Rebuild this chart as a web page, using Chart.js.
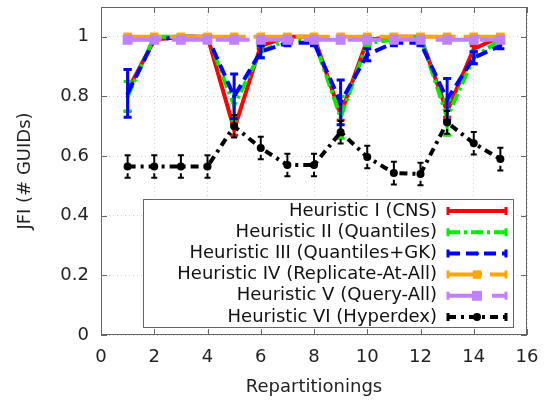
<!DOCTYPE html>
<html>
<head>
<meta charset="utf-8">
<script src="https://cdn.jsdelivr.net/npm/chart.js@4"></script>
<style>
  body { margin: 0; background: #fff; }
  #wrap { width: 545px; height: 401px; }
</style>
</head>
<body>
<div id="wrap"><canvas id="jfi" width="545" height="401"></canvas></div>
<script>
// data
const repartitionings = [1, 2, 3, 4, 5, 6, 7, 8, 9, 10, 11, 12, 13, 14, 15];

const cnsValues = [0.82, 0.99, 1.0, 1.0, 0.69, 0.97, 1.0, 1.0, 0.74, 0.99, 1.0, 1.0, 0.75, 0.96, 1.0];
const cnsErr = [0.07, 0.005, 0.005, 0.005, 0.02, 0.01, 0.005, 0.005, 0.02, 0.005, 0.005, 0.005, 0.02, 0.01, 0.005];

const quantilesValues = [0.80, 1.0, 1.0, 1.0, 0.77, 0.95, 0.99, 0.99, 0.73, 0.98, 0.99, 1.0, 0.73, 0.93, 0.99];
const quantilesErr = [0.05, 0.005, 0.005, 0.005, 0.05, 0.02, 0.005, 0.005, 0.07, 0.01, 0.005, 0.005, 0.06, 0.02, 0.005];

const gkValues = [0.81, 0.99, 1.0, 1.0, 0.80, 0.95, 0.98, 0.98, 0.78, 0.94, 0.98, 0.98, 0.79, 0.93, 0.97];
const gkErr = [0.08, 0.005, 0.005, 0.005, 0.075, 0.02, 0.01, 0.01, 0.075, 0.02, 0.01, 0.01, 0.07, 0.02, 0.01];

const replicateValues = [1.0, 1.0, 1.0, 1.0, 1.0, 1.0, 1.0, 1.0, 1.0, 1.0, 1.0, 1.0, 1.0, 1.0, 1.0];
const replicateErr = [0.003, 0.003, 0.003, 0.003, 0.003, 0.003, 0.003, 0.003, 0.003, 0.003, 0.003, 0.003, 0.003, 0.003, 0.003];

const queryAllValues = [0.99, 0.99, 0.99, 0.99, 0.99, 0.99, 0.99, 0.99, 0.99, 0.99, 0.99, 0.99, 0.99, 0.99, 0.99];
const queryAllErr = [0.003, 0.003, 0.003, 0.003, 0.003, 0.003, 0.003, 0.003, 0.003, 0.003, 0.003, 0.003, 0.003, 0.003, 0.003];

const hyperdexValues = [0.565, 0.565, 0.565, 0.565, 0.70, 0.627, 0.57, 0.57, 0.68, 0.597, 0.543, 0.54, 0.713, 0.643, 0.59];
const hyperdexErr = [0.038, 0.038, 0.038, 0.038, 0.038, 0.038, 0.038, 0.038, 0.038, 0.038, 0.038, 0.038, 0.038, 0.038, 0.038];

const seriesNames = [
  'Heuristic I (CNS)',
  'Heuristic II (Quantiles)',
  'Heuristic III (Quantiles+GK)',
  'Heuristic IV (Replicate-At-All)',
  'Heuristic V (Query-All)',
  'Heuristic VI (Hyperdex)'
];

const xTicks = [0, 2, 4, 6, 8, 10, 12, 14, 16];
const yTicks = [0, 0.2, 0.4, 0.6, 0.8, 1];
const yTickLabels = ['0', '0.2', '0.4', '0.6', '0.8', '1'];

const FONT = 'DejaVu Sans';

function pts(values) {
  return repartitionings.map((x, i) => ({ x: x, y: values[i] }));
}

function series(i, values, err, color, dash, pointStyle, radius, barStyle) {
  return {
    label: seriesNames[i],
    data: pts(values),
    errors: err,
    barStyle: barStyle,
    borderColor: color,
    backgroundColor: color,
    borderWidth: 4,
    borderDash: dash,
    pointStyle: pointStyle,
    pointRadius: radius,
    pointBorderWidth: 0,
    pointHoverRadius: radius,
    tension: 0,
    fill: false,
    order: 6 - i
  };
}

// error bars + border + inner ticks + legend, gnuplot look
const gnuplotBits = {
  id: 'gnuplotBits',
  afterDatasetDraw(chart, args) {
    const ds = chart.data.datasets[args.index];
    const xs = chart.scales.x, ys = chart.scales.y;
    const ctx = chart.ctx;
    const bs = ds.barStyle;
    ctx.save();
    ctx.strokeStyle = ds.borderColor;
    ctx.lineWidth = bs.width;
    ds.data.forEach((p, i) => {
      const e = ds.errors[i];
      const px = xs.getPixelForValue(p.x);
      const y1 = ys.getPixelForValue(p.y - e);
      const y2 = ys.getPixelForValue(p.y + e);
      ctx.setLineDash(bs.dash);
      ctx.beginPath();
      ctx.moveTo(px, y2); ctx.lineTo(px, y1);
      ctx.stroke();
      ctx.setLineDash([]);
      ctx.beginPath();
      ctx.moveTo(px - bs.cap, y1); ctx.lineTo(px + bs.cap, y1);
      ctx.moveTo(px - bs.cap, y2); ctx.lineTo(px + bs.cap, y2);
      ctx.stroke();
    });
    ctx.restore();
  },
  afterDraw(chart) {
    const ctx = chart.ctx;
    const a = chart.chartArea;
    const xs = chart.scales.x, ys = chart.scales.y;
    ctx.save();
    ctx.strokeStyle = '#666';
    ctx.lineWidth = 1;
    ctx.setLineDash([]);
    ctx.strokeRect(a.left + 0.5, a.top + 0.5, a.right - a.left - 1, a.bottom - a.top - 1);
    ctx.beginPath();
    xTicks.forEach(v => {
      const px = Math.round(xs.getPixelForValue(v)) + 0.5;
      ctx.moveTo(px, a.bottom); ctx.lineTo(px, a.bottom - 6);
      ctx.moveTo(px, a.top); ctx.lineTo(px, a.top + 6);
    });
    yTicks.forEach(v => {
      const py = Math.round(ys.getPixelForValue(v)) + 0.5;
      ctx.moveTo(a.left, py); ctx.lineTo(a.left + 6, py);
      ctx.moveTo(a.right, py); ctx.lineTo(a.right - 6, py);
    });
    ctx.stroke();

    // axis titles
    ctx.fillStyle = '#222';
    ctx.font = '18px "' + FONT + '"';
    ctx.textAlign = 'center';
    ctx.textBaseline = 'middle';
    ctx.fillText('Repartitionings', (a.left + a.right) / 2, 387);
    ctx.save();
    ctx.translate(25, (a.top + a.bottom) / 2);
    ctx.rotate(-Math.PI / 2);
    ctx.fillText('JFI (# GUIDs)', 0, 0);
    ctx.restore();

    // legend box
    const bx = 143, by = 199, bw = 370, bh = 128;
    ctx.fillStyle = '#fff';
    ctx.fillRect(bx, by, bw, bh);
    ctx.strokeStyle = '#666';
    ctx.strokeRect(bx + 0.5, by + 0.5, bw, bh);
    ctx.font = '18px "' + FONT + '"';
    ctx.textAlign = 'right';
    const sx1 = 448, sx2 = 506;
    chart.data.datasets.forEach((ds, i) => {
      const ly = 211 + i * 21.2;
      ctx.fillStyle = '#111';
      ctx.fillText(ds.label, 437, ly);
      ctx.strokeStyle = ds.borderColor;
      ctx.lineWidth = 4;
      ctx.setLineDash(ds.borderDash);
      ctx.beginPath();
      ctx.moveTo(sx1, ly); ctx.lineTo(sx2, ly);
      ctx.stroke();
      ctx.setLineDash([]);
      ctx.lineWidth = 3;
      ctx.beginPath();
      ctx.moveTo(sx1, ly - 4); ctx.lineTo(sx1, ly + 4);
      ctx.moveTo(sx2, ly - 4); ctx.lineTo(sx2, ly + 4);
      ctx.stroke();
      if (ds.pointRadius > 0) {
        ctx.fillStyle = ds.borderColor;
        const r = ds.pointRadius;
        if (ds.pointStyle === 'rect') {
          const s = r * Math.SQRT1_2;
          ctx.fillRect(477 - s, ly - s, 2 * s, 2 * s);
        } else {
          ctx.beginPath();
          ctx.arc(477, ly, r, 0, Math.PI * 2);
          ctx.fill();
        }
      }
    });
    ctx.restore();
  }
};

const solidBar = { width: 3, cap: 4, dash: [] };

const ctx = document.getElementById('jfi').getContext('2d');
const jfiChart = new Chart(ctx, {
  type: 'line',
  data: {
    datasets: [
      series(0, cnsValues, cnsErr, '#ff0000', [], 'circle', 0, solidBar),
      series(1, quantilesValues, quantilesErr, '#00ee00', [12, 4, 3, 4], 'circle', 2, solidBar),
      series(2, gkValues, gkErr, '#0000ff', [12, 6], 'circle', 2, solidBar),
      series(3, replicateValues, replicateErr, '#ffa500', [34, 8], 'rect', 6, solidBar),
      series(4, queryAllValues, queryAllErr, '#c080ff', [34, 10], 'rect', 7, solidBar),
      series(5, hyperdexValues, hyperdexErr, '#000000', [8, 5, 3, 5], 'circle', 4, { width: 2, cap: 3, dash: [12, 6] })
    ]
  },
  options: {
    responsive: false,
    animation: false,
    layout: { padding: { top: 6, right: 18, left: 0, bottom: 0 } },
    plugins: {
      legend: { display: false },
      title: { display: false },
      tooltip: { enabled: false }
    },
    scales: {
      x: {
        type: 'linear',
        min: 0,
        max: 16,
        afterBuildTicks: s => { s.ticks = xTicks.map(v => ({ value: v })); },
        afterFit: s => { s.height = 66; s.paddingLeft = 0; s.paddingRight = 0; },
        ticks: {
          padding: 12,
          color: '#222',
          font: { family: FONT, size: 18 },
          maxRotation: 0,
          callback: v => String(v)
        },
        grid: { color: '#d0d0d0', drawTicks: false, lineWidth: 1 },
        border: { display: false, dash: [1, 3] }
      },
      y: {
        type: 'linear',
        min: 0,
        max: 1.1,
        afterBuildTicks: s => { s.ticks = yTicks.map(v => ({ value: v })); },
        afterFit: s => { s.width = 101; s.paddingTop = 0; s.paddingBottom = 0; },
        ticks: {
          padding: 12,
          color: '#222',
          font: { family: FONT, size: 18 },
          callback: v => yTickLabels[yTicks.indexOf(v)]
        },
        grid: { color: '#d0d0d0', drawTicks: false, lineWidth: 1 },
        border: { display: false, dash: [1, 3] }
      }
    }
  },
  plugins: [gnuplotBits]
});
</script>
</body>
</html>
